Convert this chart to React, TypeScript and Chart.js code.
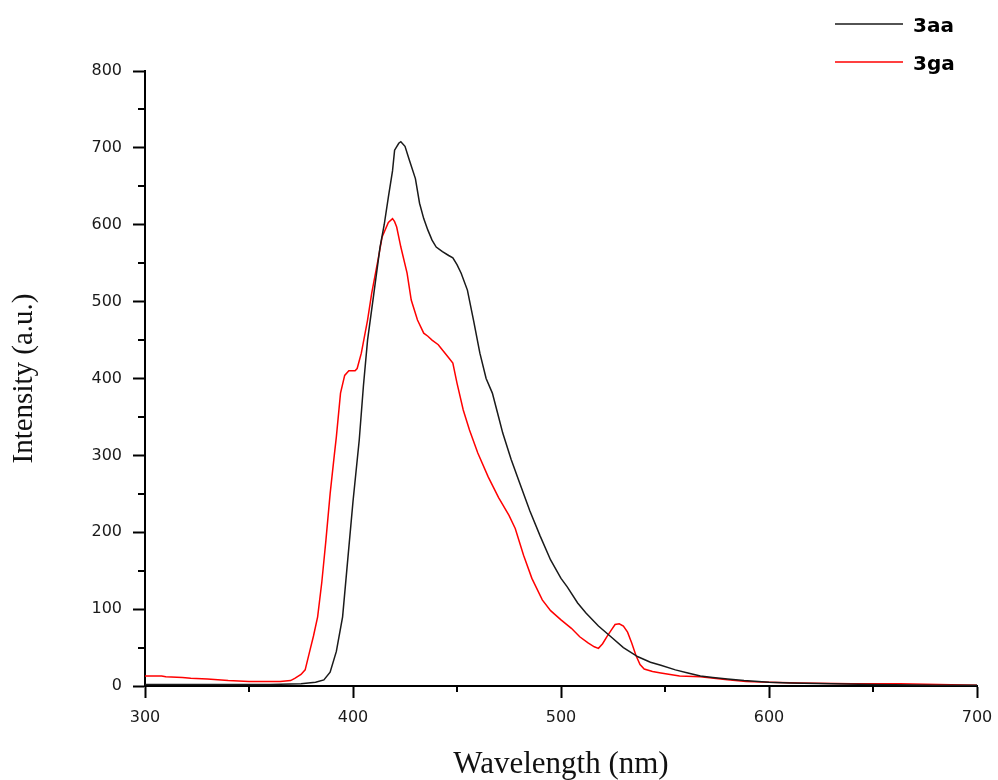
import React, { useEffect, useRef } from 'react';
import { Chart, registerables } from 'chart.js';

Chart.register(...registerables);

// 3aa emission spectrum (wavelength nm, intensity a.u.)
const wl3aa = [300, 320, 340, 360, 375, 382, 386, 389, 392, 395, 397, 400, 403, 405, 407, 410, 413, 415, 417, 419, 420, 422, 423, 425, 427, 430, 432, 434, 436, 438, 440, 443, 446, 448, 450, 452, 455, 458, 461, 464, 467, 470, 472, 476, 480, 485, 490, 495, 500, 503, 508, 512, 518, 524, 530, 537, 543, 548, 555, 561, 567, 573, 580, 588, 600, 610, 630, 650, 680, 700];
const int3aa = [2, 2, 2, 2, 3, 5, 8, 18, 45, 90, 150, 240, 320, 390, 450, 510, 571, 600, 636, 670, 697, 706, 708, 702, 685, 660, 628, 608, 593, 580, 571, 565, 560, 557, 548, 537, 515, 475, 433, 400, 381, 350, 329, 295, 265, 228, 195, 164, 140, 129, 108, 95, 78, 64, 50, 38, 31, 27, 21, 17, 13, 11, 9, 7, 5, 4, 3, 2, 1, 1];

// 3ga emission spectrum
const wl3ga = [300, 308, 310, 318, 322, 330, 335, 340, 350, 365, 370, 372, 375, 377, 379, 381, 383, 385, 387, 389, 391, 392, 394, 396, 398, 401, 402, 404, 407, 409, 412, 414, 417, 419, 420, 421, 423, 426, 428, 431, 434, 436, 438, 441, 443, 446, 448, 450, 453, 456, 460, 465, 470, 475, 478, 482, 486, 491, 495, 500, 505, 509, 513, 516, 518, 520, 522, 524, 526, 528, 530, 532, 534, 536, 538, 540, 544, 548, 557, 567, 580, 589, 600, 615, 640, 663, 700];
const int3ga = [13, 13, 12, 11, 10, 9, 8, 7, 6, 6, 7, 10, 15, 21, 43, 65, 90, 135, 190, 250, 300, 324, 381, 404, 410, 410, 413, 433, 476, 511, 554, 584, 603, 608, 604, 597, 571, 537, 502, 476, 459, 455, 450, 444, 437, 427, 420, 394, 359, 333, 303, 272, 245, 222, 205, 170, 140, 112, 98, 86, 75, 64, 56, 51, 49, 55, 64, 72, 80, 81, 78, 70, 56, 40, 28, 22, 19, 17, 13, 12, 8, 6, 5, 4, 3, 3, 1];

const seriesLabels = ['3aa', '3ga'];
const seriesColors = ['#1a1a1a', '#ff0000'];
const xMinorTicks = [350, 450, 550, 650];
const yMinorTicks = [50, 150, 250, 350, 450, 550, 650, 750];

const xTitle = 'Wavelength (nm)';
const yTitle = 'Intensity (a.u.)';

const minorTickPlugin = {
  id: 'minorTicks',
  afterDraw(chart: any) {
    const { ctx } = chart;
    const xs = chart.scales.x;
    const ys = chart.scales.y;
    ctx.save();
    ctx.strokeStyle = '#000';
    ctx.lineWidth = 2;
    ctx.beginPath();
    xMinorTicks.forEach((v) => {
      const px = Math.round(xs.getPixelForValue(v));
      ctx.moveTo(px, ys.bottom);
      ctx.lineTo(px, ys.bottom + 6);
    });
    yMinorTicks.forEach((v) => {
      const py = Math.round(ys.getPixelForValue(v));
      ctx.moveTo(xs.left, py);
      ctx.lineTo(xs.left - 7, py);
    });
    ctx.stroke();
    ctx.restore();
  },
};

const legendPlugin = {
  id: 'customLegend',
  afterDraw(chart: any) {
    const { ctx } = chart;
    ctx.save();
    const rows = [24, 62];
    chart.data.datasets.forEach((ds: any, i: number) => {
      const y = rows[i];
      ctx.strokeStyle = ds.borderColor;
      ctx.lineWidth = 1.5;
      ctx.beginPath();
      ctx.moveTo(835, y);
      ctx.lineTo(903, y);
      ctx.stroke();
      ctx.fillStyle = '#000';
      ctx.font = 'bold 20px "DejaVu Sans"';
      ctx.textBaseline = 'middle';
      ctx.textAlign = 'left';
      ctx.fillText(ds.label, 913, y + 3);
    });
    ctx.restore();
  },
};

export default function App() {
  const canvasRef = useRef<HTMLCanvasElement | null>(null);

  useEffect(() => {
    if (!canvasRef.current) return;
    const toPoints = (xs: number[], ys: number[]) => xs.map((x, i) => ({ x, y: ys[i] }));
    const tickFont = { family: '"DejaVu Sans"', size: 16 };
    const chart = new Chart(canvasRef.current, {
      type: 'line',
      data: {
        datasets: [
          {
            label: seriesLabels[0],
            data: toPoints(wl3aa, int3aa),
            borderColor: seriesColors[0],
            borderWidth: 1.5,
            pointRadius: 0,
            tension: 0,
            fill: false,
          },
          {
            label: seriesLabels[1],
            data: toPoints(wl3ga, int3ga),
            borderColor: seriesColors[1],
            borderWidth: 1.5,
            pointRadius: 0,
            tension: 0,
            fill: false,
          },
        ],
      },
      options: {
        responsive: false,
        animation: false,
        layout: { padding: { left: 0, top: 71, right: 21, bottom: 0 } },
        plugins: {
          legend: { display: false },
          tooltip: { enabled: false },
        },
        scales: {
          x: {
            type: 'linear',
            min: 300,
            max: 700,
            afterFit: (s: any) => {
              s.height = 94;
              s.paddingLeft = 0;
              s.paddingRight = 0;
            },
            ticks: { stepSize: 100, font: tickFont, color: '#1a1a1a', padding: 10, maxRotation: 0 },
            grid: { drawOnChartArea: false, drawTicks: true, tickLength: 12, tickWidth: 2, tickColor: '#000' },
            border: { display: true, color: '#000', width: 2 },
            title: {
              display: true,
              text: xTitle,
              font: { family: '"Liberation Serif"', size: 31, lineHeight: 1 },
              color: '#111',
              padding: { top: 0, bottom: 0 },
            },
          },
          y: {
            type: 'linear',
            min: 0,
            max: 800,
            afterFit: (s: any) => {
              s.width = 145;
              s.paddingTop = 0;
              s.paddingBottom = 0;
            },
            ticks: { stepSize: 100, font: tickFont, color: '#1a1a1a', padding: 11 },
            grid: { drawOnChartArea: false, drawTicks: true, tickLength: 12, tickWidth: 2, tickColor: '#000' },
            border: { display: true, color: '#000', width: 2 },
            title: {
              display: true,
              text: yTitle,
              font: { family: '"Liberation Serif"', size: 29, lineHeight: 1 },
              color: '#111',
              padding: { top: 10, bottom: 0 },
            },
          },
        },
      },
      plugins: [minorTickPlugin, legendPlugin],
    });
    return () => chart.destroy();
  }, []);

  return (
    <div style={{ position: 'fixed', left: 0, top: 0, width: 998, height: 780, background: '#fff' }}>
      <canvas ref={canvasRef} width={998} height={780} style={{ width: 998, height: 780 }} />
    </div>
  );
}
